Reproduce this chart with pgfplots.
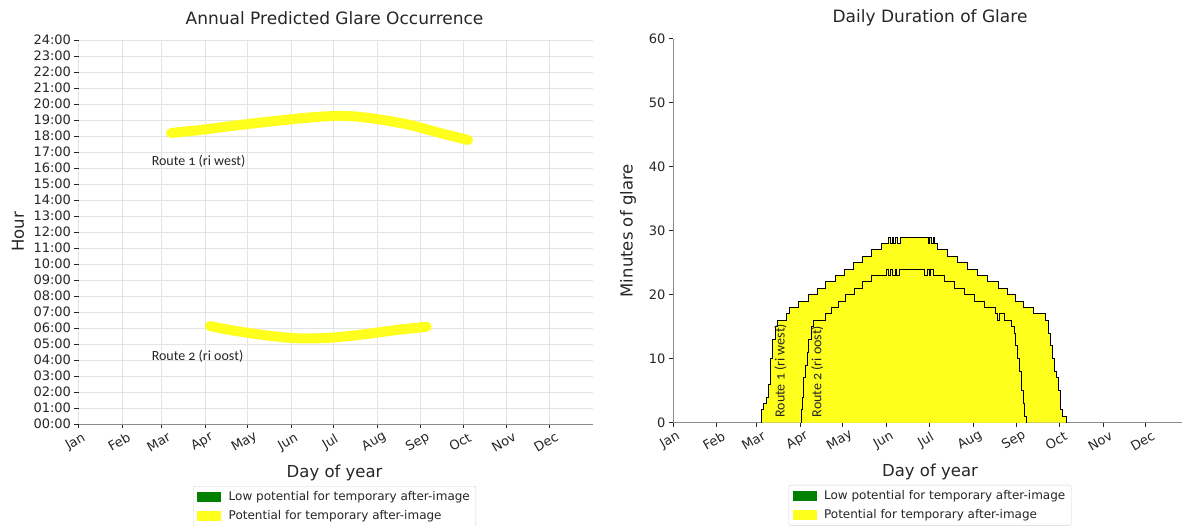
\documentclass[border=0pt]{standalone}
\usepackage{pgfplots}
\usepackage{pgfplotstable}
\pgfplotsset{compat=1.18}
\usepackage{fontspec}
\setmainfont{DejaVu Sans}
\newfontfamily\routefont[Numbers=OldStyle]{Carlito}
\definecolor{glare}{RGB}{255,255,30}
\definecolor{lowgreen}{RGB}{0,128,0}
\definecolor{txt}{RGB}{38,38,38}
\definecolor{gridc}{RGB}{228,228,228}
\definecolor{spinec}{RGB}{140,140,140}

\pgfplotstableread{
day hour
65.7 18.19
86.3 18.375
114.6 18.69
143.0 18.97
164.3 19.16
182.1 19.25
196.3 19.22
214.0 19.03
235.3 18.69
256.6 18.19
276.5 17.75
}\routeone
\pgfplotstableread{
day hour
93.3 6.125
107.5 5.875
131.2 5.56
154.9 5.36
178.5 5.39
202.2 5.6
225.9 5.875
247.2 6.08
}\routetwo
\pgfplotstableread{
day min
62.2 0
62.2 2
64 3
65.7 4
67.4 6
69 10
70.5 13
72.3 15
73.7 16
80.3 17
82.5 18
89 19
96 20
102 21
108 22
114.5 23
121 24
127.5 25
134 26
140.5 27
147.5 28
152.5 29
153.5 28
155 29
156 28
157.5 29
158.5 28
160.4 29
180.5 28
181.5 29
182.5 28
184 29
185 28
187 27
194 26
201 25
208 24
215 23
222 22
230 21
236 20
242 19
248 18
254.5 17
263 16
265 14
266.5 12
268 10
269.5 8
271 7
272.5 5
273.5 2
275 1
278 0
}\outer
\pgfplotstableread{
day min
90.5 0
90.5 2
91.5 4
92.5 7
93.5 9
94.7 11
96 13
97.5 15
99.5 16
107.5 17
112 18
117 19
122 20
128 21
134 22
140 23
151 24
152 23
154 24
155 23
157 24
158 23
160 24
178 23
179.5 24
181 23
182 24
184 23
192 22
199 21
206 20
213 19
220 18
228 17
229.5 16
230.5 17
234 16
239 15
241 14
242 12
243.5 10
245 8
246.5 5
247.5 3
248.5 1
249.5 0
}\inner

\pgfplotsset{
  glarebase/.style={
    scale only axis, height=384pt,
    xmin=0,
    xtick={0,31,59,90,120,151,181,212,243,273,304,334},
    xticklabels={Jan,Feb,Mar,Apr,May,Jun,Jul,Aug,Sep,Oct,Nov,Dec},
    xticklabel style={yshift=-14pt, xshift=-3pt, rotate=30, anchor=center, font=\fontsize{13}{15}\selectfont, text=txt},
    yticklabel style={font=\fontsize{13}{15}\selectfont, text=txt},
    tick align=outside, tick pos=left,
    major tick length=4pt,
    tick style={txt, line width=0.8pt},
    axis x line*=bottom, axis y line*=left,
    x axis line style={spinec, line width=0.9pt},
    title style={font=\fontsize{17}{20}\selectfont, text=txt, anchor=center},
    xlabel style={font=\fontsize{16.5}{19}\selectfont, text=txt, anchor=center},
    ylabel style={font=\fontsize{16.5}{19}\selectfont, text=txt, anchor=center},
    xlabel={Day of year},
    legend style={draw=gray!35, rounded corners=2pt, font=\fontsize{12}{14}\selectfont, text=txt, anchor=north, inner xsep=4pt, inner ysep=3pt, row sep=5pt, cells={anchor=west}, /tikz/every odd column/.append style={column sep=6pt}},
    legend cell align=left,
  },
}

\begin{document}
\begin{tikzpicture}
\path[use as bounding box] (0pt,0pt) rectangle (1182pt,525pt);
\begin{axis}[glarebase, at={(78.5pt,101pt)}, anchor=south west, width=514.2pt,
  xmax=365, ymin=0, ymax=24, ytick={0,...,24},
  yticklabels={00:00,01:00,02:00,03:00,04:00,05:00,06:00,07:00,08:00,09:00,10:00,11:00,12:00,13:00,14:00,15:00,16:00,17:00,18:00,19:00,20:00,21:00,22:00,23:00,24:00},
  grid=major, major grid style={gridc, line width=0.7pt},
  y axis line style={draw=none},
  title={Annual Predicted Glare Occurrence},
  title style={at={(axis description cs:0.498,1.0417)}},
  xlabel style={at={(axis description cs:0.498,-0.1276)}},
  ylabel={Hour}, ylabel style={at={(axis description cs:-0.1177,0.5)}},
  legend style={at={(axis description cs:0.498,-0.1615)}},
  clip=false,
]
\addlegendimage{legend image code/.code={\fill[lowgreen, sharp corners] (0pt,-4.5pt) rectangle (23pt,4.5pt);}}
\addlegendentry{Low potential for temporary after-image}
\addlegendimage{legend image code/.code={\fill[glare, sharp corners] (0pt,-4.5pt) rectangle (23pt,4.5pt);}}
\addlegendentry{Potential for temporary after-image}
\addplot[glare, line width=10pt, line cap=round, line join=round, smooth, forget plot] table[x=day,y=hour] {\routeone};
\addplot[glare, line width=10pt, line cap=round, line join=round, smooth, forget plot] table[x=day,y=hour] {\routetwo};
\node[anchor=west, font=\routefont\fontsize{14}{16}\selectfont, text=txt] at (axis cs:49.5,16.39) {Route 1 (ri west)};
\node[anchor=west, font=\routefont\fontsize{14}{16}\selectfont, text=txt] at (axis cs:49.5,4.21) {Route 2 (ri oost)};
\end{axis}

\begin{axis}[glarebase, at={(673pt,102.3pt)}, anchor=south west, width=509.4pt,
  xmax=360, ymin=0, ymax=60, ytick={0,10,...,60},
  /pgf/number format/assume math mode=true,
  y axis line style={spinec, line width=0.9pt},
  title={Daily Duration of Glare},
  title style={at={(axis description cs:0.5045,1.038)}},
  xlabel style={at={(axis description cs:0.5045,-0.1276)}},
  ylabel={Minutes of glare}, ylabel style={at={(axis description cs:-0.0883,0.5)}},
  legend style={at={(axis description cs:0.5045,-0.162)}},
]
\addlegendimage{legend image code/.code={\fill[lowgreen, sharp corners] (0pt,-4.5pt) rectangle (23pt,4.5pt);}}
\addlegendentry{Low potential for temporary after-image}
\addlegendimage{legend image code/.code={\fill[glare, sharp corners] (0pt,-4.5pt) rectangle (23pt,4.5pt);}}
\addlegendentry{Potential for temporary after-image}
\addplot[const plot, fill=glare, draw=none, forget plot] table[x=day,y=min] {\outer} \closedcycle;
\addplot[const plot, fill=glare, draw=none, forget plot] table[x=day,y=min] {\inner} \closedcycle;
\addplot[const plot, black, line width=0.9pt, forget plot] table[x=day,y=min] {\outer};
\addplot[const plot, black, line width=0.9pt, forget plot] table[x=day,y=min] {\inner};
\node[rotate=90, font=\routefont\fontsize{14}{16}\selectfont, text=txt] at (axis cs:76,8.1) {Route 1 (ri west)};
\node[rotate=90, font=\routefont\fontsize{14}{16}\selectfont, text=txt] at (axis cs:102,8.0) {Route 2 (ri oost)};
\end{axis}
\end{tikzpicture}
\end{document}
